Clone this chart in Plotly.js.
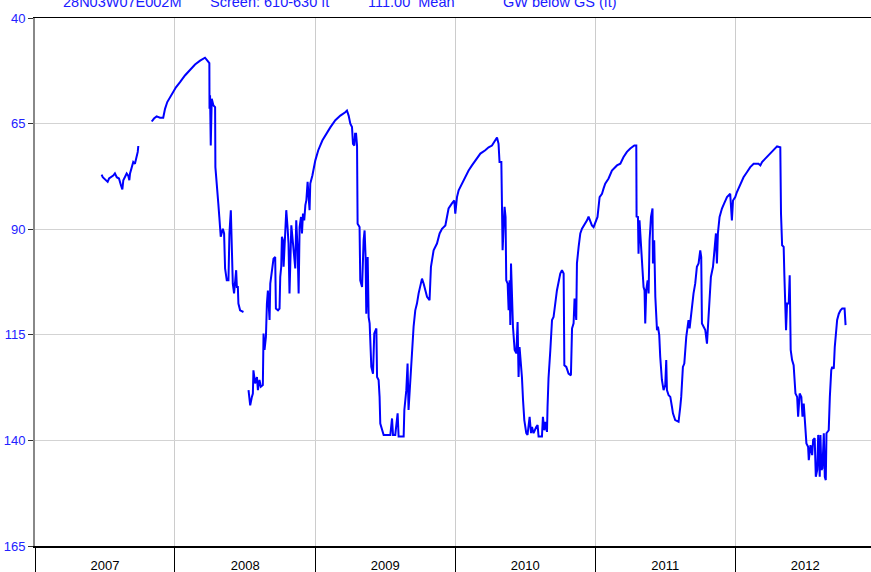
<!DOCTYPE html>
<html>
<head>
<meta charset="utf-8">
<script src="https://cdn.plot.ly/plotly-3.0.1.min.js"></script>
<style>html,body{margin:0;padding:0;background:#fff;}#chart{width:871px;height:572px;}</style>
</head>
<body>
<div id="chart"></div>
<script>
// Decimal-year time stamps and depth to groundwater below ground surface (ft)
const seg1Years = [2007.476,2007.484,2007.519,2007.529,2007.559,2007.571,2007.584,2007.600,2007.614,2007.624,2007.631,2007.643,2007.655,2007.666,2007.674,2007.679,2007.691,2007.702,2007.714,2007.726,2007.734,2007.738];
const seg1Depth = [77.1,77.7,78.8,78.0,77.3,76.8,77.7,78.0,79.6,80.6,78.4,77.7,76.8,77.3,78.4,76.8,75.3,74.1,74.5,72.9,71.7,70.3];

const seg2Years = [2007.834,2007.850,2007.869,2007.893,2007.916,2007.929,2007.945,2007.964,2007.988,2008.007,2008.036,2008.071,2008.107,2008.143,2008.179,2008.214,2008.231,2008.245,2008.246,2008.250,2008.255,2008.262,2008.274,2008.286,2008.288,2008.298,2008.305,2008.309,2008.316,2008.321,2008.326,2008.341,2008.350,2008.357,2008.369,2008.381,2008.388,2008.398,2008.405,2008.412,2008.421,2008.429,2008.436,2008.441,2008.448,2008.452,2008.464,2008.488];
const seg2Depth = [64.5,63.8,63.3,63.6,63.6,61.5,59.9,58.9,57.5,56.4,55.2,53.6,52.3,51.0,50.1,49.4,50.1,50.7,61.5,58.3,70.2,59.1,60.7,61.1,75.3,80.8,84.0,84.0,87.1,90.3,91.8,89.9,91.0,99.3,102.1,102.1,91.0,85.5,94.2,102.9,105.2,101.3,99.7,103.7,103.7,107.6,109.2,109.6];

const seg3Years = [2008.524,2008.531,2008.536,2008.548,2008.555,2008.559,2008.571,2008.584,2008.591,2008.602,2008.612,2008.626,2008.631,2008.638,2008.648,2008.655,2008.662,2008.666,2008.674,2008.679,2008.684,2008.691,2008.702,2008.714,2008.719,2008.734,2008.745,2008.750,2008.757,2008.762,2008.769,2008.774,2008.781,2008.793,2008.802,2008.809,2008.816,2008.821,2008.829,2008.841,2008.850,2008.857,2008.864,2008.874,2008.881,2008.888,2008.898,2008.905,2008.912,2008.921,2008.929,2008.936,2008.945,2008.952,2008.959,2008.964,2008.979,2009.000,2009.021,2009.050,2009.079,2009.107,2009.143,2009.179,2009.214,2009.226,2009.238,2009.250,2009.262,2009.269,2009.279,2009.284,2009.291,2009.298,2009.302,2009.316,2009.321,2009.334,2009.345,2009.352,2009.359,2009.364,2009.374,2009.381,2009.388,2009.393,2009.400,2009.412,2009.421,2009.436,2009.441,2009.452,2009.459,2009.464,2009.476,2009.488,2009.536,2009.548,2009.555,2009.571,2009.588,2009.595,2009.631,2009.636,2009.650,2009.659,2009.666,2009.679,2009.691,2009.702,2009.714,2009.726,2009.738,2009.762,2009.774,2009.786,2009.798,2009.816,2009.826,2009.845,2009.869,2009.888,2009.905,2009.929,2009.941,2009.952,2009.976,2009.993,2010.000,2010.012,2010.024,2010.048,2010.071,2010.095,2010.119,2010.155,2010.179,2010.214,2010.238,2010.262,2010.286,2010.298,2010.309,2010.316,2010.329,2010.334,2010.338,2010.345,2010.352,2010.359,2010.364,2010.374,2010.381,2010.388,2010.393,2010.398,2010.405,2010.412,2010.424,2010.436,2010.445,2010.452,2010.459,2010.469,2010.476,2010.484,2010.493,2010.507,2010.516,2010.531,2010.541,2010.548,2010.559,2010.579,2010.588,2010.595,2010.619,2010.626,2010.636,2010.643,2010.655,2010.659,2010.666,2010.679,2010.691,2010.702,2010.726,2010.750,2010.762,2010.774,2010.779,2010.793,2010.809,2010.826,2010.834,2010.845,2010.852,2010.864,2010.869,2010.881,2010.893,2010.905,2010.929,2010.941,2010.952,2010.964,2010.976,2010.988,2011.000,2011.016,2011.031,2011.048,2011.059,2011.071,2011.095,2011.119,2011.155,2011.179,2011.202,2011.226,2011.250,2011.279,2011.293,2011.295,2011.305,2011.309,2011.316,2011.329,2011.334,2011.345,2011.352,2011.357,2011.364,2011.374,2011.381,2011.388,2011.398,2011.409,2011.412,2011.421,2011.429,2011.441,2011.448,2011.457,2011.464,2011.476,2011.488,2011.500,2011.507,2011.512,2011.524,2011.536,2011.548,2011.555,2011.571,2011.595,2011.607,2011.614,2011.626,2011.636,2011.650,2011.659,2011.666,2011.674,2011.684,2011.698,2011.702,2011.714,2011.726,2011.738,2011.750,2011.757,2011.762,2011.774,2011.786,2011.798,2011.805,2011.812,2011.816,2011.826,2011.841,2011.852,2011.862,2011.869,2011.876,2011.888,2011.905,2011.921,2011.941,2011.964,2011.976,2011.984,2012.000,2012.012,2012.036,2012.059,2012.083,2012.107,2012.131,2012.166,2012.179,2012.191,2012.214,2012.250,2012.274,2012.298,2012.321,2012.326,2012.334,2012.345,2012.350,2012.357,2012.362,2012.369,2012.381,2012.388,2012.393,2012.395,2012.405,2012.416,2012.429,2012.441,2012.448,2012.459,2012.471,2012.479,2012.488,2012.500,2012.507,2012.519,2012.524,2012.536,2012.548,2012.555,2012.566,2012.574,2012.584,2012.591,2012.602,2012.607,2012.614,2012.621,2012.631,2012.638,2012.645,2012.650,2012.659,2012.666,2012.674,2012.684,2012.691,2012.702,2012.709,2012.719,2012.726,2012.738,2012.750,2012.762,2012.779,2012.786];
const seg3Depth = [128.1,130.5,131.7,129.7,128.9,123.4,126.5,125.0,128.1,125.7,127.3,126.9,114.7,118.6,115.5,107.6,104.5,106.8,111.5,102.9,101.3,99.7,97.0,96.6,108.8,109.2,108.8,101.3,98.9,91.8,92.6,98.9,92.6,85.5,89.5,93.4,105.2,95.0,89.1,93.4,98.1,99.3,87.9,95.0,105.2,89.5,87.1,91.0,86.3,87.9,84.3,83.2,78.8,83.2,85.5,79.2,77.3,73.7,71.3,69.0,67.3,65.9,64.2,63.1,62.3,61.9,63.1,65.0,65.8,69.8,70.2,67.4,67.4,70.2,88.7,89.5,102.1,103.7,92.6,90.3,96.6,110.0,96.6,110.8,112.3,119.4,122.6,124.2,114.7,113.5,125.0,125.7,129.7,136.0,137.6,138.7,138.7,134.8,138.7,138.7,133.6,139.1,139.1,132.8,128.1,121.8,132.8,125.7,117.1,113.1,109.2,107.6,105.2,101.7,102.9,104.9,106.0,106.8,98.9,95.0,93.4,91.0,89.9,89.1,87.1,85.1,83.9,83.2,86.3,82.4,80.8,79.2,77.7,76.1,74.9,73.3,72.1,71.3,70.6,70.2,69.0,68.3,69.8,74.1,74.1,90.3,95.0,89.5,84.7,87.1,102.1,102.9,109.2,102.1,112.7,98.1,104.5,113.1,118.6,119.4,112.0,125.0,117.9,121.8,125.0,130.5,135.2,138.3,138.7,134.4,138.3,136.8,138.3,136.8,136.4,139.1,139.1,134.4,137.6,135.6,138.0,132.1,125.3,118.6,111.5,110.8,104.5,100.5,99.7,100.5,122.2,122.6,124.2,124.6,113.5,112.3,106.4,111.5,98.1,94.2,91.0,89.9,88.7,87.9,87.0,87.9,89.1,89.5,88.3,87.1,82.4,81.6,80.4,79.2,78.0,76.1,74.9,74.5,72.9,71.7,70.9,70.2,70.2,87.0,87.1,95.8,87.9,95.8,99.7,103.7,104.5,112.3,104.5,102.1,105.2,92.6,87.1,85.1,98.1,92.6,106.0,113.9,113.1,115.1,120.2,125.7,128.1,126.9,121.0,128.1,129.3,129.7,132.1,133.6,135.2,135.6,132.1,129.7,122.6,121.8,115.5,112.3,111.5,113.5,110.0,106.8,105.2,102.9,98.9,98.1,95.0,96.6,112.3,113.1,113.9,117.1,113.1,109.2,107.6,101.3,98.9,93.4,91.0,98.1,91.0,87.1,85.1,83.9,82.4,81.6,87.9,83.2,82.4,81.2,79.6,77.7,76.5,75.3,74.5,74.5,74.9,74.1,73.3,72.1,71.3,70.4,70.6,86.3,93.8,94.2,100.9,108.4,113.9,107.6,107.6,100.9,113.9,118.6,121.0,122.2,128.9,129.7,134.4,128.9,129.7,134.4,131.3,136.0,140.7,141.5,144.7,141.1,143.5,139.9,139.5,148.6,147.0,138.7,148.6,138.7,147.0,146.6,138.3,148.6,149.4,138.3,138.0,137.6,129.7,123.4,122.6,123.0,117.9,113.1,111.5,110.0,109.2,108.8,108.8,112.7];

const yearTicks = ['2007','2008','2009','2010','2011','2012'];
const depthTicks = [40,65,90,115,140,165];
const headerTexts = ['28N03W07E002M','Screen: 610-630 ft','111.00  Mean','GW below GS (ft)'];

function toDate(d){
  const y = Math.floor(d);
  const a = Date.UTC(y,0,1), b = Date.UTC(y+1,0,1);
  return new Date(a + (d - y) * (b - a)).toISOString().slice(0,19).replace('T',' ');
}

const xs = [], ys = [];
[[seg1Years,seg1Depth],[seg2Years,seg2Depth],[seg3Years,seg3Depth]].forEach((s,i)=>{
  if(i>0){ xs.push(null); ys.push(null); }
  s[0].forEach((v,j)=>{ xs.push(toDate(v)); ys.push(s[1][j]); });
});

const trace = {
  x: xs, y: ys, type: 'scatter', mode: 'lines',
  line: {color: '#0000ff', width: 2},
  connectgaps: false, hoverinfo: 'skip'
};

const headerX = [61, 208, 366, 501];
const annotations = headerTexts.map((t,i)=>({
  text: t, xref: 'paper', yref: 'paper',
  x: (headerX[i]-35)/836, y: 1.012, xanchor: 'left', yanchor: 'bottom',
  showarrow: false, font: {family: 'Liberation Sans, Arial, sans-serif', size: 14.5, color: '#1a1aff'}
}));

const layout = {
  width: 871, height: 572,
  margin: {l: 35, r: 0, t: 18, b: 26, pad: 0},
  paper_bgcolor: '#ffffff', plot_bgcolor: '#ffffff',
  showlegend: false,
  font: {family: 'Liberation Sans, Arial, sans-serif'},
  xaxis: {
    type: 'date',
    range: ['2007-01-01', '2012-12-20'],
    tick0: '2007-01-01', dtick: 'M12', tickformat: '%Y',
    ticklabelmode: 'period',
    ticks: 'outside', ticklen: 26, tickcolor: '#000', tickwidth: 1,
    ticklabelstandoff: -19,
    tickfont: {size: 13, color: '#000'},
    showgrid: true, gridcolor: '#cccccc', gridwidth: 1,
    showline: true, linecolor: '#000', linewidth: 1.5, mirror: true,
    zeroline: false, fixedrange: true
  },
  yaxis: {
    range: [165, 40],
    tickvals: depthTicks,
    ticktext: depthTicks.map(String),
    ticks: 'outside', ticklen: 5, tickcolor: '#333', tickwidth: 1,
    tickfont: {size: 13, color: '#2222ff'},
    showgrid: true, gridcolor: '#d3d3d3', gridwidth: 1,
    showline: true, linecolor: '#888', linewidth: 2,
    zeroline: false, fixedrange: true
  },
  annotations: annotations
};

Plotly.newPlot('chart', [trace], layout, {displayModeBar: false, staticPlot: true});
</script>
</body>
</html>
